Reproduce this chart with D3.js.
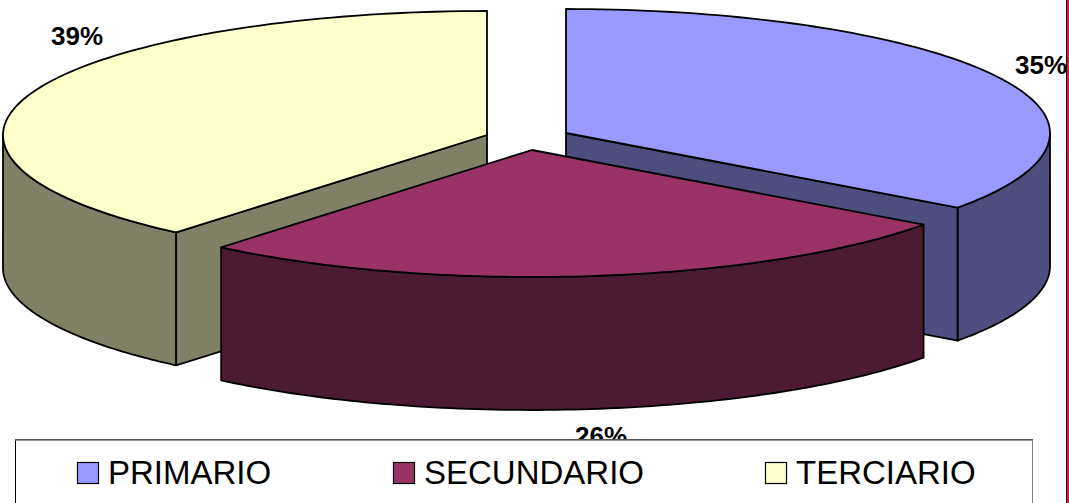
<!DOCTYPE html>
<html><head><meta charset="utf-8">
<script src="https://cdn.jsdelivr.net/npm/d3@7"></script>
<style>html,body{margin:0;padding:0;background:#fff;overflow:hidden}svg{display:block}text{font-family:"Liberation Sans",Arial,sans-serif;fill:#000}</style>
</head><body><svg id="c" width="1069" height="503"></svg>
<script>
const categories = ["PRIMARIO","SECUNDARIO","TERCIARIO"];
const values = [35,26.1,38.9];
const labels = ["35%","26%","39%"];
const topColors = ["#9999FF","#993366","#FFFFCC"];
const sideColors = ["#4D4D80","#4D1A33","#808066"];
const apexX = [566,532,487];
const apexY = [133,150,135];
const labelX = [1015,575,51];
const labelY = [74,445,45];
const legendSwatchX = [77,393,765];
const radiusX = 484, radiusYBack = 124, radiusYFront = 127, depth = 133;

const svg = d3.select("#c");
const arcs = d3.pie().sort(null).value(d=>d)(values);
const pt = (i,a,dz=0)=>{
  const c=Math.cos(a);
  return [apexX[i]+radiusX*Math.sin(a), apexY[i]-(c>0?radiusYBack:radiusYFront)*c+dz];
};
const lineGen = d3.line();
function rim(i,a0,a1,dz=0){
  const s=d3.scaleLinear().domain([0,90]).range([a0,a1]);
  return d3.range(91).map(k=>pt(i,s(k),dz));
}
const drawPoly=(pts,fill,w=1.8)=>svg.append("path").attr("d",lineGen(pts)+"Z").attr("fill",fill)
  .attr("stroke","#000").attr("stroke-width",w).attr("stroke-linejoin","round");
const PI=Math.PI;
function walls(i){
  const a=arcs[i];
  const a0=Math.max(a.startAngle,PI/2), a1=Math.min(a.endAngle,3*PI/2);
  if(a1>a0) drawPoly(rim(i,a0,a1).concat(rim(i,a1,a0,depth)),sideColors[i]);
  const c=[apexX[i],apexY[i]];
  if(i===0){const e=pt(i,a.endAngle);drawPoly([c,e,[e[0],e[1]+depth],[c[0],c[1]+depth]],sideColors[i]);}
  if(i===2){const e=pt(i,a.startAngle);drawPoly([c,e,[e[0],e[1]+depth],[c[0],c[1]+depth]],sideColors[i]);}
}
function topFace(i){
  const a=arcs[i];
  drawPoly([[apexX[i],apexY[i]]].concat(rim(i,a.startAngle,a.endAngle)),topColors[i]);
}
[2,0,1].forEach(i=>{walls(i);topFace(i);});

svg.selectAll("text.lab").data(labels).join("text").attr("class","lab")
  .attr("x",(d,i)=>labelX[i]).attr("y",(d,i)=>labelY[i])
  .attr("font-size",26).attr("font-weight","bold").text(d=>d);

svg.append("rect").attr("x",15.5).attr("y",439.5).attr("width",1017).attr("height",70)
  .attr("fill","#fff").attr("stroke","#000").attr("stroke-width",1);
svg.append("line").attr("x1",15).attr("x2",1033).attr("y1",440).attr("y2",440).attr("stroke","#707070").attr("stroke-width",1.5);
svg.append("line").attr("x1",1032.5).attr("x2",1032.5).attr("y1",440).attr("y2",503).attr("stroke","#808080").attr("stroke-width",1);
const g=svg.selectAll("g.leg").data(categories).join("g").attr("class","leg")
  .attr("transform",(d,i)=>`translate(${legendSwatchX[i]},0)`);
g.append("rect").attr("x",0.5).attr("y",462.5).attr("width",21).attr("height",21)
  .attr("fill",(d,i)=>topColors[i]).attr("stroke","#000").attr("stroke-width",1.2);
g.append("text").attr("x",31).attr("y",484).attr("font-size",33).text(d=>d);

svg.append("line").attr("x1",1066.5).attr("x2",1066.5).attr("y1",0).attr("y2",503).attr("stroke","#000").attr("stroke-width",1);
svg.append("rect").attr("x",1067).attr("y",0).attr("width",2).attr("height",503).attr("fill","#DC143C");
</script></body></html>
